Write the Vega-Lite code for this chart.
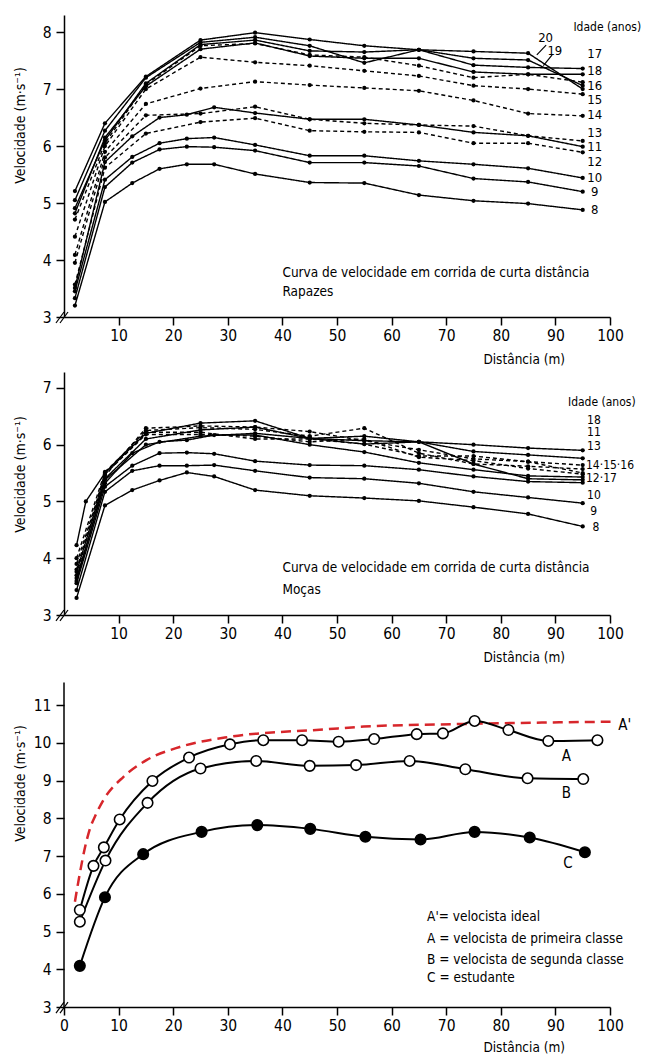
{
  "$schema": "https://vega.github.io/schema/vega-lite/v6.json",
  "padding": {"left": 13, "top": 15, "right": 0, "bottom": 0},
  "bounds": "flush",
  "spacing": 55,
  "config": {
    "font": "DejaVu Sans Condensed, sans-serif",
    "view": {"stroke": null},
    "axis": {"domainColor": "#000", "domainWidth": 1.5, "tickColor": "#000", "tickWidth": 1.5, "tickSize": 8, "labelColor": "#000", "labelFontSize": 15.5, "titleFontSize": 14, "titleFontWeight": "normal", "titleColor": "#000", "grid": false, "labelPadding": 3, "labelFlush": false, "labelOverlap": false},
    "axisY": {"labelPadding": 5},
    "text": {"color": "#000"}
  },
  "datasets": {
    "rap": [
      {"a":"8","t":"s","d":2,"v":3.20},{"a":"8","t":"s","d":7.5,"v":5.02},{"a":"8","t":"s","d":12.5,"v":5.35},{"a":"8","t":"s","d":17.5,"v":5.60},{"a":"8","t":"s","d":22.5,"v":5.68},{"a":"8","t":"s","d":27.5,"v":5.68},{"a":"8","t":"s","d":35,"v":5.51},{"a":"8","t":"s","d":45,"v":5.36},{"a":"8","t":"s","d":55,"v":5.35},{"a":"8","t":"s","d":65,"v":5.14},{"a":"8","t":"s","d":75,"v":5.04},{"a":"8","t":"s","d":85,"v":4.99},{"a":"8","t":"s","d":95,"v":4.88},
      {"a":"9","t":"s","d":2,"v":3.33},{"a":"9","t":"s","d":7.5,"v":5.28},{"a":"9","t":"s","d":12.5,"v":5.71},{"a":"9","t":"s","d":17.5,"v":5.94},{"a":"9","t":"s","d":22.5,"v":5.99},{"a":"9","t":"s","d":27.5,"v":5.98},{"a":"9","t":"s","d":35,"v":5.92},{"a":"9","t":"s","d":45,"v":5.71},{"a":"9","t":"s","d":55,"v":5.71},{"a":"9","t":"s","d":65,"v":5.65},{"a":"9","t":"s","d":75,"v":5.43},{"a":"9","t":"s","d":85,"v":5.37},{"a":"9","t":"s","d":95,"v":5.20},
      {"a":"10","t":"s","d":2,"v":3.45},{"a":"10","t":"s","d":7.5,"v":5.41},{"a":"10","t":"s","d":12.5,"v":5.81},{"a":"10","t":"s","d":17.5,"v":6.05},{"a":"10","t":"s","d":22.5,"v":6.13},{"a":"10","t":"s","d":27.5,"v":6.15},{"a":"10","t":"s","d":35,"v":6.02},{"a":"10","t":"s","d":45,"v":5.83},{"a":"10","t":"s","d":55,"v":5.83},{"a":"10","t":"s","d":65,"v":5.74},{"a":"10","t":"s","d":75,"v":5.68},{"a":"10","t":"s","d":85,"v":5.61},{"a":"10","t":"s","d":95,"v":5.44},
      {"a":"11","t":"s","d":2,"v":3.51},{"a":"11","t":"s","d":7.5,"v":5.72},{"a":"11","t":"s","d":12.5,"v":6.17},{"a":"11","t":"s","d":17.5,"v":6.50},{"a":"11","t":"s","d":22.5,"v":6.55},{"a":"11","t":"s","d":27.5,"v":6.68},{"a":"11","t":"s","d":35,"v":6.58},{"a":"11","t":"s","d":45,"v":6.47},{"a":"11","t":"s","d":55,"v":6.47},{"a":"11","t":"s","d":65,"v":6.37},{"a":"11","t":"s","d":75,"v":6.24},{"a":"11","t":"s","d":85,"v":6.18},{"a":"11","t":"s","d":95,"v":5.99},
      {"a":"12","t":"d","d":2,"v":3.57},{"a":"12","t":"d","d":7.5,"v":5.62},{"a":"12","t":"d","d":15,"v":6.22},{"a":"12","t":"d","d":25,"v":6.42},{"a":"12","t":"d","d":35,"v":6.49},{"a":"12","t":"d","d":45,"v":6.27},{"a":"12","t":"d","d":55,"v":6.25},{"a":"12","t":"d","d":65,"v":6.24},{"a":"12","t":"d","d":75,"v":6.05},{"a":"12","t":"d","d":85,"v":6.05},{"a":"12","t":"d","d":95,"v":5.89},
      {"a":"13","t":"d","d":2,"v":3.95},{"a":"13","t":"d","d":7.5,"v":5.80},{"a":"13","t":"d","d":15,"v":6.54},{"a":"13","t":"d","d":25,"v":6.57},{"a":"13","t":"d","d":35,"v":6.69},{"a":"13","t":"d","d":45,"v":6.47},{"a":"13","t":"d","d":55,"v":6.40},{"a":"13","t":"d","d":65,"v":6.37},{"a":"13","t":"d","d":75,"v":6.35},{"a":"13","t":"d","d":85,"v":6.18},{"a":"13","t":"d","d":95,"v":6.09},
      {"a":"14","t":"d","d":2,"v":4.09},{"a":"14","t":"d","d":7.5,"v":5.90},{"a":"14","t":"d","d":15,"v":6.74},{"a":"14","t":"d","d":25,"v":7.01},{"a":"14","t":"d","d":35,"v":7.13},{"a":"14","t":"d","d":45,"v":7.07},{"a":"14","t":"d","d":55,"v":7.02},{"a":"14","t":"d","d":65,"v":6.97},{"a":"14","t":"d","d":75,"v":6.80},{"a":"14","t":"d","d":85,"v":6.57},{"a":"14","t":"d","d":95,"v":6.53},
      {"a":"15","t":"d","d":2,"v":4.41},{"a":"15","t":"d","d":7.5,"v":6.00},{"a":"15","t":"d","d":15,"v":7.00},{"a":"15","t":"d","d":25,"v":7.56},{"a":"15","t":"d","d":35,"v":7.47},{"a":"15","t":"d","d":45,"v":7.41},{"a":"15","t":"d","d":55,"v":7.32},{"a":"15","t":"d","d":65,"v":7.23},{"a":"15","t":"d","d":75,"v":7.06},{"a":"15","t":"d","d":85,"v":7.00},{"a":"15","t":"d","d":95,"v":6.91},
      {"a":"16","t":"d","d":2,"v":4.71},{"a":"16","t":"d","d":7.5,"v":6.05},{"a":"16","t":"d","d":15,"v":7.08},{"a":"16","t":"d","d":25,"v":7.76},{"a":"16","t":"d","d":35,"v":7.80},{"a":"16","t":"d","d":45,"v":7.60},{"a":"16","t":"d","d":55,"v":7.56},{"a":"16","t":"d","d":65,"v":7.41},{"a":"16","t":"d","d":75,"v":7.20},{"a":"16","t":"d","d":85,"v":7.26},{"a":"16","t":"d","d":95,"v":7.12},
      {"a":"17","t":"s","d":2,"v":4.91},{"a":"17","t":"s","d":7.5,"v":6.10},{"a":"17","t":"s","d":15,"v":7.10},{"a":"17","t":"s","d":25,"v":7.78},{"a":"17","t":"s","d":35,"v":7.86},{"a":"17","t":"s","d":45,"v":7.67},{"a":"17","t":"s","d":55,"v":7.65},{"a":"17","t":"s","d":65,"v":7.69},{"a":"17","t":"s","d":75,"v":7.42},{"a":"17","t":"s","d":85,"v":7.38},{"a":"17","t":"s","d":95,"v":7.36},
      {"a":"18","t":"s","d":2,"v":4.82},{"a":"18","t":"s","d":7.5,"v":6.15},{"a":"18","t":"s","d":15,"v":7.05},{"a":"18","t":"s","d":25,"v":7.70},{"a":"18","t":"s","d":35,"v":7.81},{"a":"18","t":"s","d":45,"v":7.58},{"a":"18","t":"s","d":55,"v":7.54},{"a":"18","t":"s","d":65,"v":7.54},{"a":"18","t":"s","d":75,"v":7.30},{"a":"18","t":"s","d":85,"v":7.26},{"a":"18","t":"s","d":95,"v":7.26},
      {"a":"19","t":"s","d":2,"v":5.05},{"a":"19","t":"s","d":7.5,"v":6.27},{"a":"19","t":"s","d":15,"v":7.20},{"a":"19","t":"s","d":25,"v":7.82},{"a":"19","t":"s","d":35,"v":7.91},{"a":"19","t":"s","d":45,"v":7.76},{"a":"19","t":"s","d":55,"v":7.46},{"a":"19","t":"s","d":65,"v":7.69},{"a":"19","t":"s","d":75,"v":7.54},{"a":"19","t":"s","d":85,"v":7.51},{"a":"19","t":"s","d":95,"v":7.06},
      {"a":"20","t":"s","d":2,"v":5.21},{"a":"20","t":"s","d":7.5,"v":6.40},{"a":"20","t":"s","d":15,"v":7.22},{"a":"20","t":"s","d":25,"v":7.86},{"a":"20","t":"s","d":35,"v":7.99},{"a":"20","t":"s","d":45,"v":7.87},{"a":"20","t":"s","d":55,"v":7.76},{"a":"20","t":"s","d":65,"v":7.69},{"a":"20","t":"s","d":75,"v":7.66},{"a":"20","t":"s","d":85,"v":7.63},{"a":"20","t":"s","d":95,"v":7.00}
    ],
    "moc": [
      {"a":"8","t":"s","d":2.3,"v":3.30},{"a":"8","t":"s","d":7.5,"v":4.93},{"a":"8","t":"s","d":12.5,"v":5.20},{"a":"8","t":"s","d":17.5,"v":5.37},{"a":"8","t":"s","d":22.5,"v":5.51},{"a":"8","t":"s","d":27.5,"v":5.44},{"a":"8","t":"s","d":35,"v":5.20},{"a":"8","t":"s","d":45,"v":5.10},{"a":"8","t":"s","d":55,"v":5.06},{"a":"8","t":"s","d":65,"v":5.01},{"a":"8","t":"s","d":75,"v":4.90},{"a":"8","t":"s","d":85,"v":4.78},{"a":"8","t":"s","d":95,"v":4.56},
      {"a":"9","t":"s","d":2.3,"v":3.44},{"a":"9","t":"s","d":7.5,"v":5.17},{"a":"9","t":"s","d":12.5,"v":5.54},{"a":"9","t":"s","d":17.5,"v":5.63},{"a":"9","t":"s","d":22.5,"v":5.63},{"a":"9","t":"s","d":27.5,"v":5.64},{"a":"9","t":"s","d":35,"v":5.54},{"a":"9","t":"s","d":45,"v":5.42},{"a":"9","t":"s","d":55,"v":5.40},{"a":"9","t":"s","d":65,"v":5.32},{"a":"9","t":"s","d":75,"v":5.17},{"a":"9","t":"s","d":85,"v":5.07},{"a":"9","t":"s","d":95,"v":4.97},
      {"a":"10","t":"s","d":2.3,"v":3.56},{"a":"10","t":"s","d":7.5,"v":5.26},{"a":"10","t":"s","d":12.5,"v":5.63},{"a":"10","t":"s","d":17.5,"v":5.85},{"a":"10","t":"s","d":22.5,"v":5.86},{"a":"10","t":"s","d":27.5,"v":5.84},{"a":"10","t":"s","d":35,"v":5.71},{"a":"10","t":"s","d":45,"v":5.64},{"a":"10","t":"s","d":55,"v":5.63},{"a":"10","t":"s","d":65,"v":5.56},{"a":"10","t":"s","d":75,"v":5.44},{"a":"10","t":"s","d":85,"v":5.35},{"a":"10","t":"s","d":95,"v":5.33},
      {"a":"11","t":"s","d":2.3,"v":3.76},{"a":"11","t":"s","d":7.5,"v":5.40},{"a":"11","t":"s","d":15,"v":6.10},{"a":"11","t":"s","d":25,"v":6.26},{"a":"11","t":"s","d":35,"v":6.31},{"a":"11","t":"s","d":45,"v":6.11},{"a":"11","t":"s","d":55,"v":6.15},{"a":"11","t":"s","d":65,"v":6.05},{"a":"11","t":"s","d":75,"v":5.88},{"a":"11","t":"s","d":85,"v":5.82},{"a":"11","t":"s","d":95,"v":5.76},
      {"a":"12","t":"s","d":2.3,"v":3.65},{"a":"12","t":"s","d":7.5,"v":5.32},{"a":"12","t":"s","d":12.5,"v":5.85},{"a":"12","t":"s","d":17.5,"v":6.05},{"a":"12","t":"s","d":22.5,"v":6.08},{"a":"12","t":"s","d":27.5,"v":6.17},{"a":"12","t":"s","d":35,"v":6.17},{"a":"12","t":"s","d":45,"v":6.00},{"a":"12","t":"s","d":55,"v":5.87},{"a":"12","t":"s","d":65,"v":5.68},{"a":"12","t":"s","d":75,"v":5.56},{"a":"12","t":"s","d":85,"v":5.45},{"a":"12","t":"s","d":95,"v":5.43},
      {"a":"13","t":"d","d":2.3,"v":3.90},{"a":"13","t":"d","d":7.5,"v":5.45},{"a":"13","t":"d","d":15,"v":6.29},{"a":"13","t":"d","d":25,"v":6.33},{"a":"13","t":"d","d":35,"v":6.31},{"a":"13","t":"d","d":45,"v":6.23},{"a":"13","t":"d","d":55,"v":6.07},{"a":"13","t":"d","d":65,"v":5.91},{"a":"13","t":"d","d":75,"v":5.75},{"a":"13","t":"d","d":85,"v":5.70},{"a":"13","t":"d","d":95,"v":5.64},
      {"a":"14","t":"d","d":2.3,"v":3.80},{"a":"14","t":"d","d":7.5,"v":5.50},{"a":"14","t":"d","d":15,"v":6.25},{"a":"14","t":"d","d":25,"v":6.30},{"a":"14","t":"d","d":35,"v":6.27},{"a":"14","t":"d","d":45,"v":6.15},{"a":"14","t":"d","d":55,"v":6.29},{"a":"14","t":"d","d":65,"v":5.85},{"a":"14","t":"d","d":75,"v":5.66},{"a":"14","t":"d","d":85,"v":5.62},{"a":"14","t":"d","d":95,"v":5.57},
      {"a":"15","t":"d","d":2.3,"v":4.00},{"a":"15","t":"d","d":7.5,"v":5.52},{"a":"15","t":"d","d":15,"v":6.22},{"a":"15","t":"d","d":25,"v":6.22},{"a":"15","t":"d","d":35,"v":6.10},{"a":"15","t":"d","d":45,"v":6.10},{"a":"15","t":"d","d":55,"v":6.01},{"a":"15","t":"d","d":65,"v":5.80},{"a":"15","t":"d","d":75,"v":5.80},{"a":"15","t":"d","d":85,"v":5.70},{"a":"15","t":"d","d":95,"v":5.50},
      {"a":"16","t":"d","d":2.3,"v":3.70},{"a":"16","t":"d","d":7.5,"v":5.48},{"a":"16","t":"d","d":15,"v":6.18},{"a":"16","t":"d","d":25,"v":6.18},{"a":"16","t":"d","d":35,"v":6.15},{"a":"16","t":"d","d":45,"v":6.05},{"a":"16","t":"d","d":55,"v":6.10},{"a":"16","t":"d","d":65,"v":5.78},{"a":"16","t":"d","d":75,"v":5.72},{"a":"16","t":"d","d":85,"v":5.58},{"a":"16","t":"d","d":95,"v":5.48},
      {"a":"17","t":"s","d":2.3,"v":3.60},{"a":"17","t":"s","d":7.5,"v":5.38},{"a":"17","t":"s","d":15,"v":6.00},{"a":"17","t":"s","d":25,"v":6.15},{"a":"17","t":"s","d":35,"v":6.20},{"a":"17","t":"s","d":45,"v":6.11},{"a":"17","t":"s","d":55,"v":6.01},{"a":"17","t":"s","d":65,"v":6.05},{"a":"17","t":"s","d":75,"v":5.66},{"a":"17","t":"s","d":85,"v":5.40},{"a":"17","t":"s","d":95,"v":5.38},
      {"a":"18","t":"s","d":2.3,"v":4.23},{"a":"18","t":"s","d":4,"v":5.00},{"a":"18","t":"s","d":7.5,"v":5.50},{"a":"18","t":"s","d":15,"v":6.20},{"a":"18","t":"s","d":25,"v":6.38},{"a":"18","t":"s","d":35,"v":6.42},{"a":"18","t":"s","d":45,"v":6.11},{"a":"18","t":"s","d":55,"v":6.07},{"a":"18","t":"s","d":65,"v":6.05},{"a":"18","t":"s","d":75,"v":6.00},{"a":"18","t":"s","d":85,"v":5.94},{"a":"18","t":"s","d":95,"v":5.90}
    ],
    "vel": [
      {"c":"A","d":2.9,"v":5.57},{"c":"A","d":5.4,"v":6.74},{"c":"A","d":7.3,"v":7.23},{"c":"A","d":10.2,"v":7.97},{"c":"A","d":16.2,"v":8.99},{"c":"A","d":22.9,"v":9.61},{"c":"A","d":30.4,"v":9.96},{"c":"A","d":36.5,"v":10.07},{"c":"A","d":43.6,"v":10.07},{"c":"A","d":50.3,"v":10.03},{"c":"A","d":56.8,"v":10.10},{"c":"A","d":64.6,"v":10.23},{"c":"A","d":69.4,"v":10.25},{"c":"A","d":75.2,"v":10.58},{"c":"A","d":81.4,"v":10.34},{"c":"A","d":88.7,"v":10.05},{"c":"A","d":97.7,"v":10.07},
      {"c":"B","d":2.9,"v":5.26},{"c":"B","d":7.6,"v":6.88},{"c":"B","d":15.3,"v":8.41},{"c":"B","d":25.0,"v":9.32},{"c":"B","d":35.2,"v":9.52},{"c":"B","d":45.0,"v":9.39},{"c":"B","d":53.5,"v":9.41},{"c":"B","d":63.3,"v":9.52},{"c":"B","d":73.5,"v":9.30},{"c":"B","d":84.9,"v":9.06},{"c":"B","d":95.1,"v":9.04},
      {"c":"C","d":2.9,"v":4.09},{"c":"C","d":7.5,"v":5.91},{"c":"C","d":14.5,"v":7.05},{"c":"C","d":25.2,"v":7.64},{"c":"C","d":35.4,"v":7.82},{"c":"C","d":45.1,"v":7.72},{"c":"C","d":55.2,"v":7.51},{"c":"C","d":65.3,"v":7.44},{"c":"C","d":75.2,"v":7.64},{"c":"C","d":85.3,"v":7.49},{"c":"C","d":95.4,"v":7.10}
    ],
    "ideal": [
      {"d":2,"v":5.79},{"d":2.9,"v":6.54},{"d":3.8,"v":7.2},{"d":4.7,"v":7.70},{"d":5.9,"v":8.12},{"d":7.2,"v":8.48},{"d":10.9,"v":9.10},{"d":15.1,"v":9.54},{"d":21.2,"v":9.89},{"d":30.4,"v":10.16},{"d":48.2,"v":10.36},{"d":54.9,"v":10.43},{"d":73.2,"v":10.50},{"d":100.1,"v":10.56}
    ]
  },
  "vconcat": [
    {
      "width": 546, "height": 302,
      "encoding": {
        "x": {"field": "d", "type": "quantitative", "scale": {"domain": [0, 100], "nice": false}, "axis": {"values": [10,20,30,40,50,60,70,80,90,100], "title": "Distância (m)", "titleX": 500.5, "titleY": 42, "titleAlign": "right", "titleBaseline": "middle", "titleFontSize": 13.5}},
        "y": {"field": "v", "type": "quantitative", "scale": {"domain": [3, 8.3], "nice": false, "zero": false}, "axis": {"values": [3,4,5,6,7,8], "title": "Velocidade (m·s⁻¹)", "titleX": -37, "titleY": 110, "titleAngle": 270, "titleAlign": "center", "titleBaseline": "bottom"}}
      },
      "layer": [
        {"data": {"name": "rap"}, "mark": {"type": "line", "color": "#000", "strokeWidth": 1.4},
         "encoding": {"detail": {"field": "a"}, "strokeDash": {"field": "t", "type": "nominal", "scale": {"domain": ["s", "d"], "range": [[1, 0], [4, 3]]}, "legend": null}}},
        {"data": {"name": "rap"}, "mark": {"type": "point", "filled": true, "color": "#000", "size": 18, "opacity": 1}},
        {"data": {"values": [
          {"d":97.2,"v":7.61,"t":"17"},{"d":97.2,"v":7.32,"t":"18"},{"d":97.2,"v":7.05,"t":"16"},{"d":97.2,"v":6.80,"t":"15"},{"d":97.2,"v":6.54,"t":"14"},{"d":97.2,"v":6.23,"t":"13"},{"d":97.2,"v":5.99,"t":"11"},{"d":97.2,"v":5.72,"t":"12"},{"d":97.2,"v":5.44,"t":"10"},{"d":97.2,"v":5.19,"t":"9"},{"d":97.2,"v":4.88,"t":"8"},{"d":88.2,"v":7.89,"t":"20"},{"d":89.9,"v":7.67,"t":"19"}]},
         "mark": {"type": "text", "fontSize": 13, "align": "center", "baseline": "middle"}, "encoding": {"text": {"field": "t"}}},
        {"data": {"values": [{"d":93.3,"v":8.09,"t":"Idade (anos)"}]},
         "mark": {"type": "text", "fontSize": 12, "align": "left", "baseline": "middle"}, "encoding": {"text": {"field": "t"}}},
        {"data": {"values": [{"d":40,"v":3.77,"t":"Curva de velocidade em corrida de curta distância"},{"d":40,"v":3.44,"t":"Rapazes"}]},
         "mark": {"type": "text", "fontSize": 13.5, "align": "left", "baseline": "middle"}, "encoding": {"text": {"field": "t"}}},
        {"data": {"values": [{"d":86.6,"v":7.60,"d2":88.3,"v2":7.77},{"d":87.8,"v":7.41,"d2":89.4,"v2":7.60},{"d":-1.47,"v":2.895,"d2":0,"v2":3.088},{"d":-0.73,"v":2.895,"d2":0.73,"v2":3.088}]},
         "mark": {"type": "rule", "color": "#000", "strokeWidth": 1.2},
         "encoding": {"x2": {"field": "d2"}, "y2": {"field": "v2"}}}
      ]
    },
    {
      "width": 546, "height": 243,
      "encoding": {
        "x": {"field": "d", "type": "quantitative", "scale": {"domain": [0, 100], "nice": false}, "axis": {"values": [10,20,30,40,50,60,70,80,90,100], "title": "Distância (m)", "titleX": 500.5, "titleY": 42, "titleAlign": "right", "titleBaseline": "middle", "titleFontSize": 13.5}},
        "y": {"field": "v", "type": "quantitative", "scale": {"domain": [3, 7.28], "nice": false, "zero": false}, "axis": {"values": [3,4,5,6,7], "title": "Velocidade (m·s⁻¹)", "titleX": -37, "titleY": 102, "titleAngle": 270, "titleAlign": "center", "titleBaseline": "bottom"}}
      },
      "layer": [
        {"data": {"name": "moc"}, "mark": {"type": "line", "color": "#000", "strokeWidth": 1.4},
         "encoding": {"detail": {"field": "a"}, "strokeDash": {"field": "t", "type": "nominal", "scale": {"domain": ["s", "d"], "range": [[1, 0], [4, 3]]}, "legend": null}}},
        {"data": {"name": "moc"}, "mark": {"type": "point", "filled": true, "color": "#000", "size": 18, "opacity": 1}},
        {"data": {"values": [
          {"d":95.8,"v":6.44,"t":"18"},{"d":95.8,"v":6.22,"t":"11"},{"d":95.8,"v":5.98,"t":"13"},{"d":95.6,"v":5.65,"t":"14·15·16"},{"d":95.6,"v":5.42,"t":"12·17"},{"d":95.8,"v":5.12,"t":"10"},{"d":96.4,"v":4.84,"t":"9"},{"d":96.8,"v":4.55,"t":"8"}]},
         "mark": {"type": "text", "fontSize": 12, "align": "left", "baseline": "middle"}, "encoding": {"text": {"field": "t"}}},
        {"data": {"values": [{"d":92.3,"v":6.76,"t":"Idade (anos)"}]},
         "mark": {"type": "text", "fontSize": 12, "align": "left", "baseline": "middle"}, "encoding": {"text": {"field": "t"}}},
        {"data": {"values": [{"d":40,"v":3.82,"t":"Curva de velocidade em corrida de curta distância"},{"d":40,"v":3.44,"t":"Moças"}]},
         "mark": {"type": "text", "fontSize": 13.5, "align": "left", "baseline": "middle"}, "encoding": {"text": {"field": "t"}}},
        {"data": {"values": [{"d":-1.47,"v":2.895,"d2":0,"v2":3.088},{"d":-0.73,"v":2.895,"d2":0.73,"v2":3.088}]},
         "mark": {"type": "rule", "color": "#000", "strokeWidth": 1.2},
         "encoding": {"x2": {"field": "d2"}, "y2": {"field": "v2"}}}
      ]
    },
    {
      "width": 546, "height": 337,
      "encoding": {
        "x": {"field": "d", "type": "quantitative", "scale": {"domain": [0, 100], "nice": false}, "axis": {"values": [0,10,20,30,40,50,60,70,80,90,100], "title": "Distância (m)", "titleX": 500.5, "titleY": 40, "titleAlign": "right", "titleBaseline": "middle", "titleFontSize": 13.5}},
        "y": {"field": "v", "type": "quantitative", "scale": {"domain": [3, 11.93], "nice": false, "zero": false}, "axis": {"values": [3,4,5,6,7,8,9,10,11], "domain": false, "title": "Velocidade (m·s⁻¹)", "titleX": -37, "titleY": 113, "titleAngle": 270, "titleAlign": "center", "titleBaseline": "bottom"}}
      },
      "layer": [
        {"data": {"values": [{"d":0,"v":3,"d2":0,"v2":11.6}]}, "mark": {"type": "rule", "color": "#000", "strokeWidth": 1.5}, "encoding": {"x2": {"field": "d2"}, "y2": {"field": "v2"}}},
        {"data": {"name": "ideal"}, "mark": {"type": "line", "color": "#d7262b", "strokeWidth": 2.5, "strokeDash": [10, 6], "interpolate": "monotone"}},
        {"data": {"name": "vel"}, "mark": {"type": "line", "color": "#000", "strokeWidth": 2, "interpolate": "monotone"}, "encoding": {"detail": {"field": "c"}}},
        {"data": {"name": "vel"}, "mark": {"type": "point", "shape": "circle", "stroke": "#000", "strokeWidth": 1.6, "size": 110, "opacity": 1},
         "encoding": {"fill": {"field": "c", "type": "nominal", "scale": {"domain": ["A", "B", "C"], "range": ["#fff", "#fff", "#000"]}, "legend": null}}},
        {"data": {"values": [{"d":92,"v":9.65,"t":"A"},{"d":92,"v":8.66,"t":"B"},{"d":92.3,"v":6.81,"t":"C"},{"d":102.7,"v":10.47,"t":"A'"}]},
         "mark": {"type": "text", "fontSize": 15, "align": "center", "baseline": "middle"}, "encoding": {"text": {"field": "t"}}},
        {"data": {"values": [{"d":66.5,"v":5.39,"t":"A'= velocista ideal"},{"d":66.5,"v":4.79,"t":"A = velocista de primeira classe"},{"d":66.5,"v":4.25,"t":"B = velocista de segunda classe"},{"d":66.5,"v":3.76,"t":"C = estudante"}]},
         "mark": {"type": "text", "fontSize": 13.5, "align": "left", "baseline": "middle"}, "encoding": {"text": {"field": "t"}}},
        {"data": {"values": [{"d":-1.47,"v":2.84,"d2":0,"v2":3.13},{"d":-0.73,"v":2.84,"d2":0.73,"v2":3.13}]},
         "mark": {"type": "rule", "color": "#000", "strokeWidth": 1.2},
         "encoding": {"x2": {"field": "d2"}, "y2": {"field": "v2"}}}
      ]
    }
  ]
}
